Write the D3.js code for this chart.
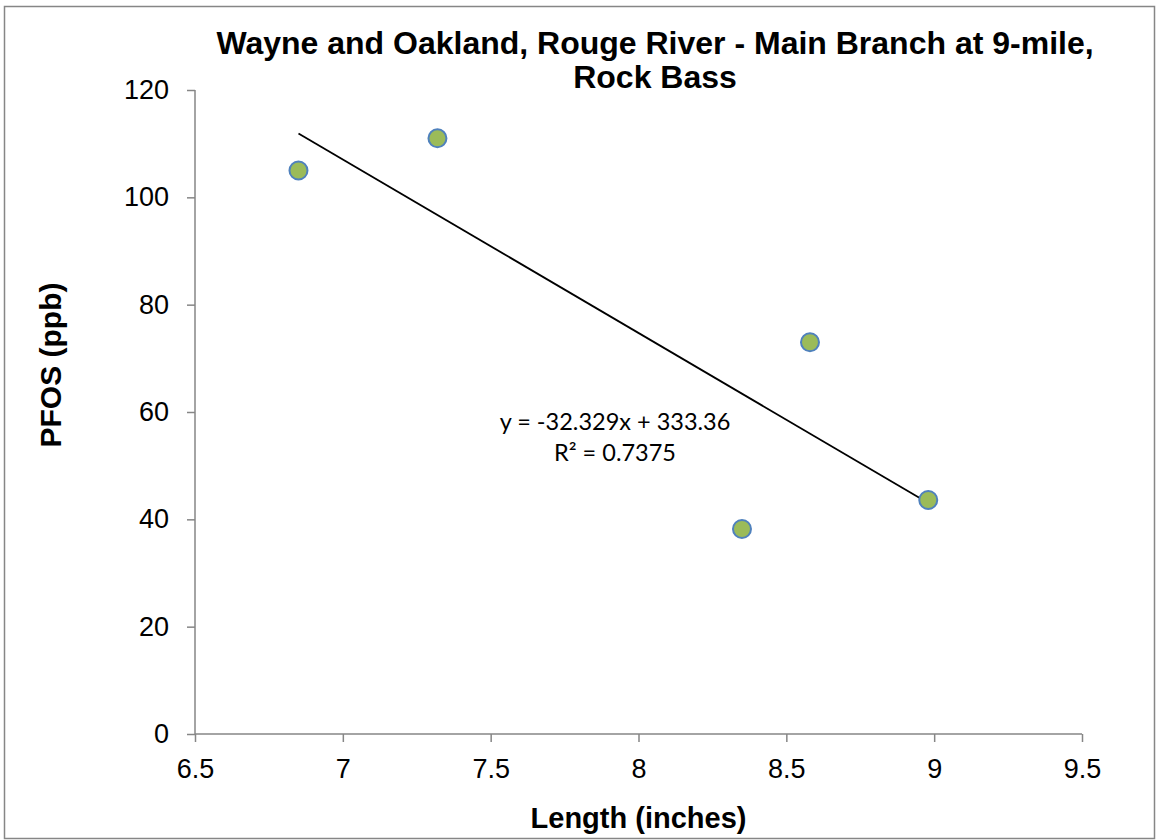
<!DOCTYPE html>
<html>
<head>
<meta charset="utf-8">
<script src="https://cdn.jsdelivr.net/npm/d3@7"></script>
<style>
    body { margin: 0; background: #fff; }
    .axis path, .axis line { stroke: #868686; stroke-width: 1.5; }
    .axis text { font-family: "Liberation Sans", Arial, sans-serif; font-size: 27px; fill: #000; }
</style>
</head>
<body>
<div id="chart"></div>
<script>
// Fish length (inches) and PFOS (ppb)
const lengths = [6.85, 7.32, 8.35, 8.58, 8.98];
const pfos = [105, 111, 38.2, 73, 43.6];

// Axis ticks
const xTicks = [6.5, 7, 7.5, 8, 8.5, 9, 9.5];
const yTicks = [0, 20, 40, 60, 80, 100, 120];

// Linear trendline shown on the chart
const trendSlope = -32.329;
const trendIntercept = 333.36;
const trendLabels = ["y = -32.329x + 333.36", "R² = 0.7375"];

const titleLines = ["Wayne and Oakland, Rouge River - Main Branch at 9-mile,", "Rock Bass"];

const width = 1156, height = 840;
const margin = { top: 90, right: 74, bottom: 106, left: 195 },
    plotWidth = width - margin.left - margin.right,
    plotHeight = height - margin.top - margin.bottom;

const svg = d3.select("#chart")
    .append("svg")
    .attr("width", width)
    .attr("height", height);

// outer chart border
svg.append("rect")
    .attr("x", 4.5)
    .attr("y", 6.5)
    .attr("width", 1150)
    .attr("height", 832)
    .attr("fill", "#fff")
    .attr("stroke", "#868686")
    .attr("stroke-width", 1.5);

const g = svg.append("g")
    .attr("transform", "translate(" + margin.left + "," + margin.top + ")");

const x = d3.scaleLinear()
    .domain([6.5, 9.5])
    .range([0, plotWidth]);

const y = d3.scaleLinear()
    .domain([0, 120])
    .range([plotHeight, 0]);

g.append("g")
    .attr("class", "x axis")
    .attr("transform", "translate(0," + plotHeight + ")")
    .call(d3.axisBottom(x).tickValues(xTicks).tickSize(8).tickPadding(17).tickFormat(d3.format("")));

g.append("g")
    .attr("class", "y axis")
    .call(d3.axisLeft(y).tickValues(yTicks).tickSize(8).tickPadding(18).tickFormat(d3.format("")));

g.selectAll(".axis path").attr("d", function () {
    return d3.select(this.parentNode).classed("x") ? "M0,0H" + plotWidth : "M0,0V" + plotHeight;
});

// trendline
const xExt = d3.extent(lengths);
g.append("line")
    .attr("x1", x(xExt[0]))
    .attr("y1", y(trendSlope * xExt[0] + trendIntercept))
    .attr("x2", x(xExt[1]))
    .attr("y2", y(trendSlope * xExt[1] + trendIntercept))
    .attr("stroke", "#000")
    .attr("stroke-width", 1.8);

// points
g.selectAll(".dot")
    .data(lengths.map((d, i) => ({ x: d, y: pfos[i] })))
    .enter().append("circle")
    .attr("class", "dot")
    .attr("cx", d => x(d.x))
    .attr("cy", d => y(d.y))
    .attr("r", 9)
    .attr("fill", "#9BBB59")
    .attr("stroke", "#4F81BD")
    .attr("stroke-width", 2);

// trendline equation
svg.append("text")
    .attr("text-anchor", "middle")
    .attr("font-family", "Lato, Carlito, Calibri, sans-serif")
    .attr("font-size", 23.5)
    .selectAll("tspan")
    .data(trendLabels)
    .enter().append("tspan")
    .attr("x", 615)
    .attr("y", (d, i) => 430 + i * 31)
    .text(d => d);

// title
svg.append("text")
    .attr("text-anchor", "middle")
    .attr("font-family", "'Liberation Sans', Arial, sans-serif")
    .attr("font-weight", "bold")
    .attr("font-size", 32)
    .selectAll("tspan")
    .data(titleLines)
    .enter().append("tspan")
    .attr("x", 655)
    .attr("y", (d, i) => 54 + i * 34)
    .text(d => d);

// axis titles
svg.append("text")
    .attr("text-anchor", "middle")
    .attr("x", margin.left + plotWidth / 2)
    .attr("y", 828)
    .attr("font-family", "'Liberation Sans', Arial, sans-serif")
    .attr("font-weight", "bold")
    .attr("font-size", 29)
    .text("Length (inches)");

svg.append("text")
    .attr("text-anchor", "middle")
    .attr("transform", "translate(61,365) rotate(-90)")
    .attr("font-family", "'Liberation Sans', Arial, sans-serif")
    .attr("font-weight", "bold")
    .attr("font-size", 30)
    .text("PFOS (ppb)");
</script>
</body>
</html>
